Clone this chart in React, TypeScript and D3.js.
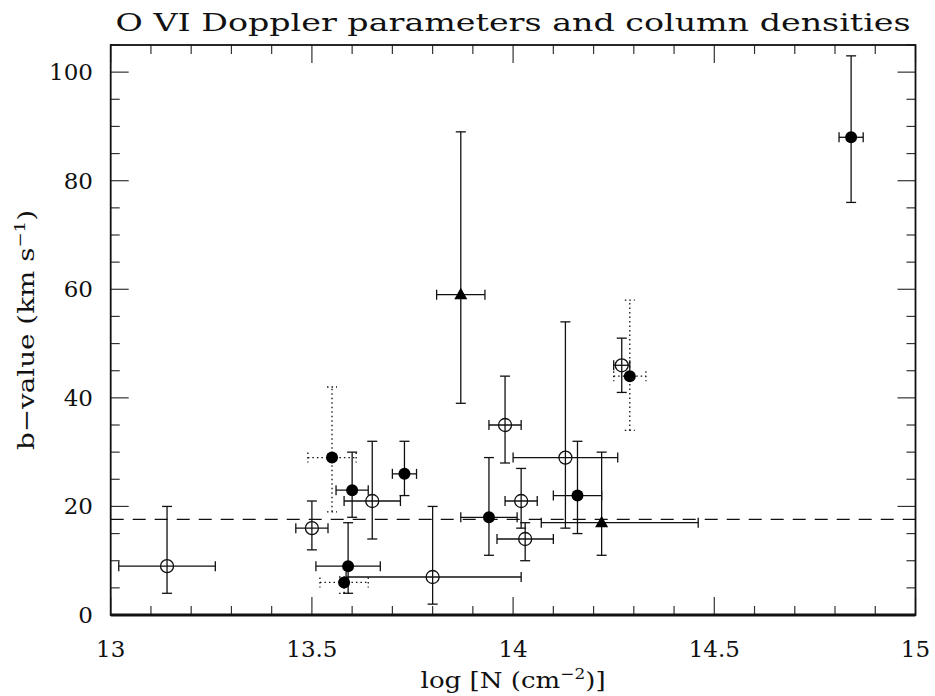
import React from "react";
import * as d3 from "d3";

// Filled circles
const filledX = [13.55, 13.6, 13.73, 13.59, 13.58, 13.94, 14.16, 14.29, 14.84];
const filledY = [29, 23, 26, 9, 6, 18, 22, 44, 88];
const filledXLo = [13.49, 13.56, 13.7, 13.51, 13.52, 13.87, 14.1, 14.25, 14.81];
const filledXHi = [13.61, 13.64, 13.76, 13.67, 13.64, 14.01, 14.22, 14.33, 14.87];
const filledYLo = [19, 18, 22, 4, 4, 11, 15, 34, 76];
const filledYHi = [42, 30, 32, 17, 7, 29, 32, 58, 103];
const filledDotted = [true, false, false, false, true, false, false, true, false];

// Open circles
const openX = [13.14, 13.5, 13.65, 13.8, 13.98, 14.02, 14.03, 14.13, 14.27];
const openY = [9, 16, 21, 7, 35, 21, 14, 29, 46];
const openXLo = [13.02, 13.46, 13.58, 13.585, 13.94, 13.98, 13.96, 14.0, 14.25];
const openXHi = [13.26, 13.54, 13.72, 14.02, 14.02, 14.06, 14.1, 14.26, 14.29];
const openYLo = [4, 12, 14, 2, 28, 16, 10, 16, 41];
const openYHi = [20, 21, 32, 20, 44, 27, 17, 54, 51];

// Triangles
const triX = [13.87, 14.22];
const triY = [59, 17];
const triXLo = [13.81, 14.07];
const triXHi = [13.93, 14.46];
const triYLo = [39, 11];
const triYHi = [89, 30];

const meanB = 17.6;

const xTicks = [13, 13.5, 14, 14.5, 15];
const xTickLabels = ["13", "13.5", "14", "14.5", "15"];
const yTicks = [0, 20, 40, 60, 80, 100];
const yTickLabels = ["0", "20", "40", "60", "80", "100"];

const W = 935;
const H = 696;
const L = 110.7;
const R = 915.5;
const T = 45;
const B = 615;
const FONT = "'DejaVu Serif', serif";
const INK = "#111";

export default function App() {
  const x = d3.scaleLinear().domain([13, 15]).range([L, R]);
  const y = d3.scaleLinear().domain([0, 105]).range([B, T]);
  const minorX = d3.range(13, 15.0001, 0.1).map((v) => +v.toFixed(2));
  const minorY = d3.range(0, 105.0001, 5);
  const cap = 5;

  const errBar = (
    key: string,
    cx: number,
    cy: number,
    xlo: number,
    xhi: number,
    ylo: number,
    yhi: number,
    dotted: boolean
  ) => {
    const px = x(cx), py = y(cy);
    const dash = dotted ? "1.5,3" : undefined;
    return (
      <g key={key} stroke={INK} strokeWidth={1.3} strokeDasharray={dash} fill="none">
        <line x1={x(xlo)} x2={x(xhi)} y1={py} y2={py} />
        <line x1={x(xlo)} x2={x(xlo)} y1={py - cap} y2={py + cap} />
        <line x1={x(xhi)} x2={x(xhi)} y1={py - cap} y2={py + cap} />
        <line x1={px} x2={px} y1={y(ylo)} y2={y(yhi)} />
        <line x1={px - cap} x2={px + cap} y1={y(ylo)} y2={y(ylo)} />
        <line x1={px - cap} x2={px + cap} y1={y(yhi)} y2={y(yhi)} />
      </g>
    );
  };

  return (
    <svg width={W} height={H} style={{ display: "block", position: "absolute", left: 0, top: 0, background: "#fff" }}>
      <rect x={0} y={0} width={W} height={H} fill="#fff" />
      {/* title */}
      <text x={(L + R) / 2} y={31} textAnchor="middle" fontFamily={FONT} fontSize={24} fill={INK}
        textLength={795} lengthAdjust="spacingAndGlyphs">
        O VI Doppler parameters and column densities
      </text>

      {/* minor/major ticks */}
      <g stroke="#333" strokeWidth={1.2}>
        {minorX.map((v, i) => {
          const major = Math.abs(v * 2 - Math.round(v * 2)) < 1e-6;
          const len = major ? 18 : 9;
          return (
            <g key={"xt" + i}>
              <line x1={x(v)} x2={x(v)} y1={B} y2={B - len} />
              <line x1={x(v)} x2={x(v)} y1={T} y2={T + len} />
            </g>
          );
        })}
        {minorY.map((v, i) => {
          const major = v % 20 === 0;
          const len = major ? 18 : 9;
          return (
            <g key={"yt" + i}>
              <line x1={L} x2={L + len} y1={y(v)} y2={y(v)} />
              <line x1={R} x2={R - len} y1={y(v)} y2={y(v)} />
            </g>
          );
        })}
      </g>

      {/* frame */}
      <rect x={L} y={T} width={R - L} height={B - T} fill="none" stroke={INK} strokeWidth={1.8} />
      <line x1={L} x2={R} y1={B} y2={B} stroke={INK} strokeWidth={3} />

      {/* tick labels */}
      {xTicks.map((v, i) => (
        <text key={"xl" + i} x={x(v)} y={657} textAnchor="middle" fontFamily={FONT} fontSize={23} fill={INK}>
          {xTickLabels[i]}
        </text>
      ))}
      {yTicks.map((v, i) => (
        <text key={"yl" + i} x={93} y={y(v) + 8} textAnchor="end" fontFamily={FONT} fontSize={23} fill={INK}>
          {yTickLabels[i]}
        </text>
      ))}

      {/* axis titles */}
      <text x={(L + R) / 2} y={688} textAnchor="middle" fontFamily={FONT} fontSize={23} fill={INK}
        textLength={185} lengthAdjust="spacingAndGlyphs">
        log [N (cm<tspan dy={-9} fontSize={15}>−2</tspan><tspan dy={9}>)]</tspan>
      </text>
      <text transform={`translate(34,${(T + B) / 2}) rotate(-90)`} textAnchor="middle" fontFamily={FONT} fontSize={23} fill={INK}
        textLength={240} lengthAdjust="spacingAndGlyphs">
        b−value (km s<tspan dy={-9} fontSize={15}>−1</tspan><tspan dy={9}>)</tspan>
      </text>

      {/* mean line */}
      <line x1={L} x2={R} y1={y(meanB)} y2={y(meanB)} stroke={INK} strokeWidth={1.3} strokeDasharray="13,9" />

      {/* error bars */}
      {openX.map((v, i) => errBar("oe" + i, v, openY[i], openXLo[i], openXHi[i], openYLo[i], openYHi[i], false))}
      {filledX.map((v, i) => errBar("fe" + i, v, filledY[i], filledXLo[i], filledXHi[i], filledYLo[i], filledYHi[i], filledDotted[i]))}
      {triX.map((v, i) => errBar("te" + i, v, triY[i], triXLo[i], triXHi[i], triYLo[i], triYHi[i], false))}

      {/* markers */}
      {openX.map((v, i) => (
        <circle key={"o" + i} cx={x(v)} cy={y(openY[i])} r={6.5} fill="none" stroke={INK} strokeWidth={1.3} />
      ))}
      {filledX.map((v, i) => (
        <circle key={"f" + i} cx={x(v)} cy={y(filledY[i])} r={6} fill="#000" />
      ))}
      {triX.map((v, i) => {
        const px = x(v), py = y(triY[i]);
        return <path key={"t" + i} d={`M${px - 6.5},${py + 4.5} L${px + 6.5},${py + 4.5} L${px},${py - 7} Z`} fill="#000" />;
      })}
    </svg>
  );
}
